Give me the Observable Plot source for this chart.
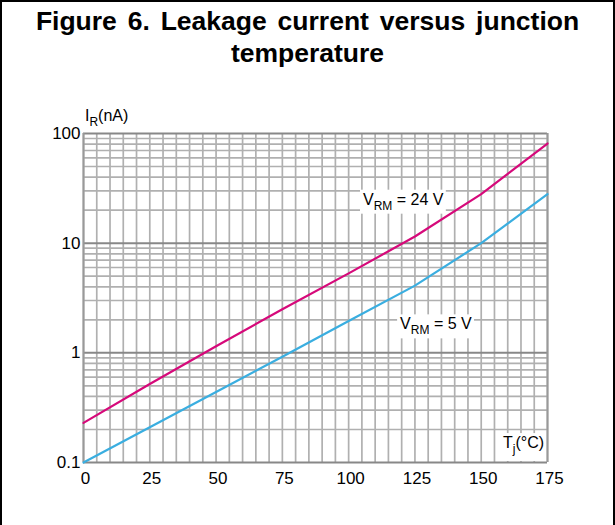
<!DOCTYPE html>
<html>
<head>
<meta charset="utf-8">
<script src="https://cdn.jsdelivr.net/npm/d3@7"></script>
<script src="https://cdn.jsdelivr.net/npm/@observablehq/plot@0.6"></script>
<style>
  html, body { margin: 0; padding: 0; background: #fff; }
  body { width: 615px; height: 525px; overflow: hidden; position: relative; font-family: "Liberation Sans", Arial, sans-serif; }
  #frame { position: absolute; left: 0; top: 0; width: 615px; height: 560px; box-sizing: border-box; border: 2px solid #000; pointer-events: none; }
  #title { position: absolute; left: 0; top: 5px; width: 615px; text-align: center; font-weight: bold; font-size: 26.5px; word-spacing: 3.5px; line-height: 32px; color: #000; }
  #chart { position: absolute; left: 0; top: 0; }
</style>
</head>
<body>
<div id="chart"></div>
<div id="title">Figure 6. Leakage current versus junction<br>temperature</div>
<div id="frame"></div>
<script>
// ---- data ----
const temps = [0, 25, 50, 75, 100, 125, 150, 175];          // Tj (°C)
const leak24 = [0.23, 0.52, 1.15, 2.5, 5.3, 11.5, 28, 81];   // VRM = 24 V, IR (nA)
const leak5  = [0.1, 0.21, 0.44, 0.92, 1.95, 4.1, 10, 28];   // VRM = 5 V, IR (nA)

const xTicks = [0, 25, 50, 75, 100, 125, 150, 175];
const xTickLabels = ["0", "25", "50", "75", "100", "125", "150", "175"];
const yTicks = [0.1, 1, 10, 100];
const yTickLabels = ["0.1", "1", "10", "100"];
const xGrid = [0,5,10,15,20,25,30,35,40,45,50,55,60,65,70,75,80,85,90,95,100,105,110,115,120,125,130,135,140,145,150,155,160,165,170,175];
const yMinor = [0.2,0.3,0.4,0.5,0.6,0.7,0.8,0.9, 2,3,4,5,6,7,8,9, 20,30,40,50,60,70,80,90];

// annotation anchors (data coordinates: T, I at text baseline)
const labels = [
  {T: 105.6, I: 22.2, parts: [["V",""],["RM","sub"],[" = 24 V",""]], box: true},
  {T: 119.6, I: 1.62, parts: [["V",""],["RM","sub"],[" = 5 V",""]], box: true},
  {T: 158.4, I: 0.134, parts: [["T",""],["j","sub"],["(°C)",""]], box: true, boxRight: true},
  {T: 0.75, I: 128, parts: [["I",""],["R","sub"],["(nA)",""]], box: false}
];

const rows24 = temps.map((t, i) => ({T: t, I: leak24[i]}));
const rows5 = temps.map((t, i) => ({T: t, I: leak5[i]}));
const xLabelMap = new Map(xTicks.map((t, i) => [t, xTickLabels[i]]));
const yLabelMap = new Map(yTicks.map((t, i) => [t, yTickLabels[i]]));

const PINK = "#d6097a";
const BLUE = "#3aaee0";

const plot = Plot.plot({
  width: 615,
  height: 525,
  marginLeft: 83,
  marginRight: 68,
  marginTop: 133,
  marginBottom: 63,
  style: {fontFamily: "'Liberation Sans', Arial, sans-serif", fontSize: "17px", color: "#000", background: "transparent"},
  x: {domain: [0, 175]},
  y: {type: "log", domain: [0.1, 100]},
  marks: [
    Plot.ruleX(xGrid, {x: d => d, stroke: "#b0b0b0", strokeWidth: 1.7}),
    Plot.ruleY(yMinor, {y: d => d, stroke: "#b0b0b0", strokeWidth: 1.7}),
    Plot.ruleY(yTicks, {y: d => d, stroke: "#888", strokeWidth: 2}),
    Plot.ruleX([0, 175], {x: d => d, stroke: "#999", strokeWidth: 2}),
    Plot.line(rows5, {x: "T", y: "I", stroke: BLUE, strokeWidth: 2.2}),
    Plot.line(rows24, {x: "T", y: "I", stroke: PINK, strokeWidth: 2.2}),
    Plot.axisY(yTicks, {tickFormat: d => yLabelMap.get(d), tickSize: 0, tickPadding: 3, label: null, fontSize: 17, fill: "#000"}),
    Plot.axisX(xTicks, {tickFormat: d => xLabelMap.get(d), tickSize: 0, tickPadding: 9, label: null, fontSize: 17, dx: 2, fill: "#000"})
  ]
});
document.getElementById("chart").appendChild(plot);

const xs = plot.scale("x"), ys = plot.scale("y");
const svg = d3.select(plot);
svg.selectAll('g[aria-label="x-axis tick label"], g[aria-label="y-axis tick label"]').attr("font-size", 17);

const g = svg.append("g").attr("font-family", "'Liberation Sans', Arial, sans-serif").attr("text-anchor", "start");
for (const lab of labels) {
  const px = xs.apply(lab.T), py = ys.apply(lab.I);
  const grp = g.append("g");
  const rect = grp.append("rect").attr("fill", "#fff");
  const text = grp.append("text").attr("x", px).attr("y", py).attr("font-size", 16).attr("fill", "#000").attr("text-anchor", "start");
  let prevSub = false;
  for (const [s, kind] of lab.parts) {
    const ts = text.append("tspan").text(s);
    if (kind === "sub") { ts.attr("font-size", 12).attr("dy", 5); prevSub = true; }
    else if (prevSub) { ts.attr("dy", -5); prevSub = false; }
  }
  if (lab.box) {
    const bb = text.node().getBBox();
    let x0 = bb.x - 3, y0 = bb.y - 1, w = bb.width + 5, h = bb.height + 2;
    if (lab.boxRight) { w = xs.apply(175) - x0 - 1; h = ys.apply(0.1) - y0 - 1; }
    rect.attr("x", x0).attr("y", y0).attr("width", w).attr("height", h);
  }
}
</script>
</body>
</html>
